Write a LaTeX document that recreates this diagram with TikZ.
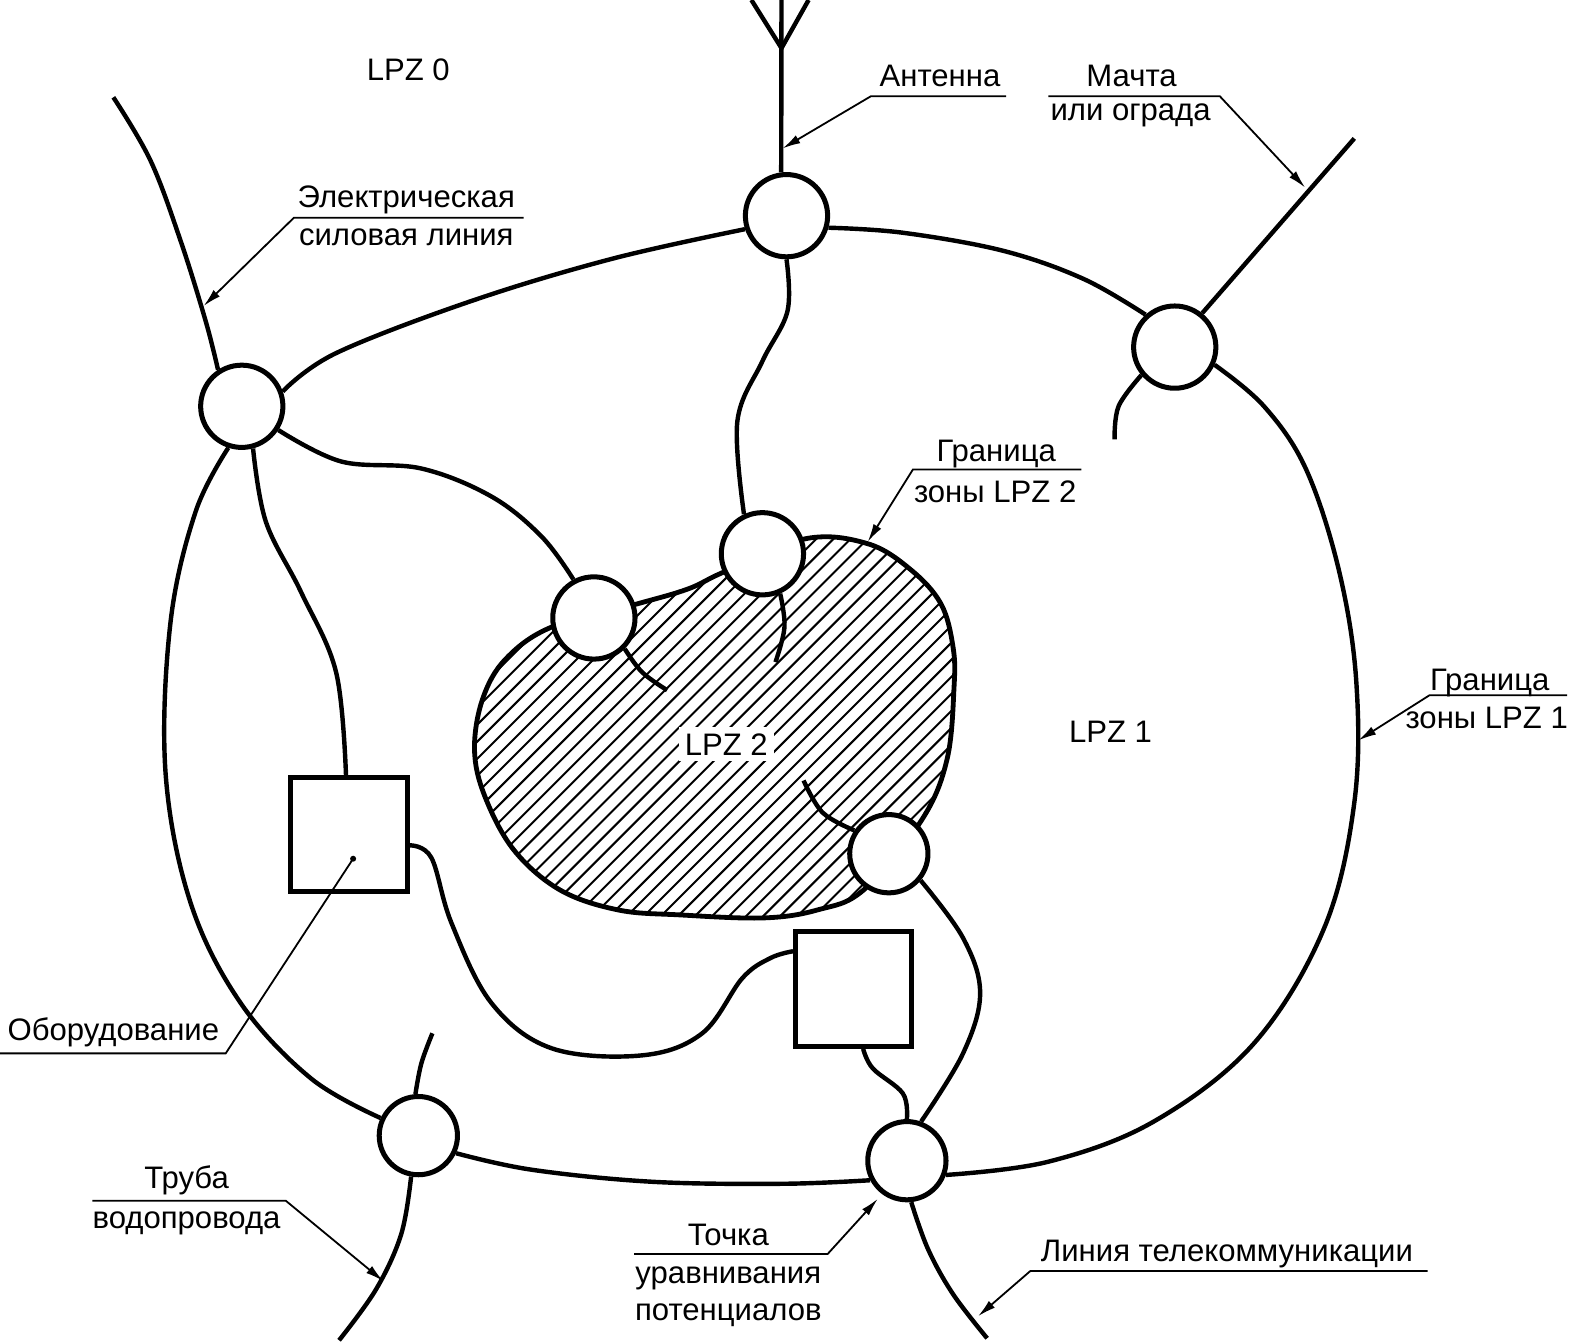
\documentclass[tikz,border=0pt]{standalone}
\usepackage{fontspec}
\setmainfont{Liberation Sans}
\usetikzlibrary{positioning,shapes,arrows.meta,calc}

\begin{document}
\begin{tikzpicture}[
    x=0.5pt,y=-0.5pt,
    bondpt/.style={circle,draw,line width=2.5pt,fill=white,minimum size=41pt,inner sep=0pt},
    unitbox/.style={rectangle,draw,line width=2.5pt,fill=white,minimum width=58pt,minimum height=57pt,inner sep=0pt},
    wire/.style={line width=2.2pt,smooth,tension=0.6},
    leader/.style={line width=0.9pt},
    tip/.style={leader,-{Latex[length=9pt,width=4.5pt]}},
    caption/.style={font=\fontsize{15.5}{18}\selectfont,inner sep=0pt,anchor=center,text height=11pt,text depth=0pt}
]
    \useasboundingbox (0,0) rectangle (1568,1338);

    % LPZ 2 zone
    \begin{scope}
        \clip plot[smooth cycle,tension=0.6] coordinates {(803,537) (865,542) (908,568) (938,602) (950,645) (951,685) (944,757) (919,817)
        (861,887) (815,907) (761,915) (678,912) (616,907) (558,887) (512,847) (483,793) (473,747) (481,697) (504,657) (550,625)
        (635,602) (686,587) (722,570)};
        \foreach \s in {-204,-187,...,510}
            \draw[line width=1pt] (800+\s,500) -- (300+\s,1000);
    \end{scope}
    \draw[line width=2.4pt]
        plot[smooth cycle,tension=0.6] coordinates {(803,537) (865,542) (908,568) (938,602) (950,645) (951,685) (944,757) (919,817)
        (861,887) (815,907) (761,915) (678,912) (616,907) (558,887) (512,847) (483,793) (473,747) (481,697) (504,657) (550,625)
        (635,602) (686,587) (722,570)};

    % bonding points
    \node[bondpt] (ptop) at (784,215) {};
    \node[bondpt] (pleft) at (241,405) {};
    \node[bondpt] (pright) at (1171,346) {};
    \node[bondpt] (pmid) at (760,552) {};
    \node[bondpt] (pinner) at (592,616) {};
    \node[bondpt,minimum size=39pt] (plow) at (886,851) {};
    \node[bondpt,minimum size=39pt] (pwater) at (417,1132) {};
    \node[bondpt,minimum size=39pt] (pbottom) at (904,1157) {};
    \node[unitbox] (eq1) at (348,832) {};
    \node[unitbox] (eq2) at (851,986) {};

    % free ends
    \coordinate (antfoot) at (779,0);
    \coordinate (antfork) at (779,48);
    \coordinate (antl) at (749,0);
    \coordinate (antr) at (806,0);
    \coordinate (mast) at (1350,138);
    \coordinate (stubm) at (1111,438);
    \coordinate (stubi) at (665,688);
    \coordinate (stubc) at (773,660);
    \coordinate (stubl) at (801,778);
    \coordinate (power) at (113,97);
    \coordinate (pipet) at (431,1030);
    \coordinate (pipeb) at (338,1336);
    \coordinate (tele) at (984,1334);

    % LPZ 1 ring
    \draw[wire] plot coordinates {(pleft.20) (335,352) (470,300) (610,258) (ptop.198)};
    \draw[wire] plot coordinates {(ptop.344) (900,232) (1000,250) (1080,278) (pright.132)};
    \draw[wire] plot coordinates {(pright.-24) (1260,405) (1302,468) (1335,570) (1352,680) (1350,800) (1320,925) (1250,1040) (1150,1118) (1045,1158) (pbottom.-20)};
    \draw[wire] plot coordinates {(pbottom.208) (780,1180) (650,1178) (530,1166) (pwater.-25)};
    \draw[wire] plot coordinates {(pwater.155) (310,1075) (240,1000) (190,900) (165,770) (170,620) (195,510) (pleft.252)};

    % inner wiring
    \draw[wire] plot coordinates {(pleft.-33) (340,460) (420,467) (490,495) (540,535) (pinner.118)};
    \draw[wire] plot coordinates {(pleft.285) (265,520) (300,590) (335,670) (eq1.93)};
    \draw[wire] plot coordinates {(ptop.-90) (785,310) (760,360) (735,420) (pmid.115)};
    \draw[wire] plot coordinates {(eq1.-10) (430,855) (450,920) (490,1000) (550,1045) (640,1052) (700,1030) (740,975) (768,955) (eq2.148)};
    \draw[wire] plot coordinates {(plow.-40) (960,935) (977,990) (960,1050) (pbottom.70)};
    \draw[wire] plot coordinates {(eq2.-81) (870,1065) (900,1090) (pbottom.90)};

    % stubs
    \draw[wire] plot coordinates {(pright.220) (1115,405) (stubm)};
    \draw[wire] plot coordinates {(pinner.-45) (640,670) (stubi)};
    \draw[wire] plot coordinates {(pmid.-66) (782,625) (stubc)};
    \draw[wire] plot coordinates {(plow.146) (820,810) (stubl)};

    % entering services
    \draw[line width=2.2pt] (ptop.97) -- (antfoot);
    \draw[line width=2.2pt] (antl) -- (antfork) -- (antr);
    \draw[line width=2.2pt] (pright.51) -- (mast);
    \draw[wire] plot coordinates {(power) (150,160) (180,240) (205,320) (pleft.123)};
    \draw[wire] plot coordinates {(pwater.94) (420,1060) (pipet)};
    \draw[wire] plot coordinates {(pwater.260) (400,1230) (375,1285) (pipeb)};
    \draw[wire] plot coordinates {(pbottom.-84) (925,1245) (950,1290) (tele)};

    % zone names
    \node[caption] (lpz0) at (407,69) {LPZ 0};
    \node[caption] (lpz1) at (1107,729) {LPZ 1};
    \node[caption,fill=white,inner sep=3pt] (lpz2) at (724,742) {LPZ 2};

    % callouts
    \node[caption] (tant) at (937,75) {Антенна};
    \coordinate (antA) at (1003,96);
    \coordinate (antB) at (868,96);
    \coordinate (antC) at (780,148);
    \draw[tip] (antA) -- (antB) -- (antC);

    \node[caption] (tmast) at (1128,75) {Мачта};
    \node[caption] (tfence) at (1127,109) {или ограда};
    \coordinate (mastA) at (1045,96);
    \coordinate (mastB) at (1216,96);
    \coordinate (mastC) at (1301,187);
    \draw[tip] (mastA) -- (mastB) -- (mastC);

    \node[caption] (tpow) at (405,196) {Электрическая};
    \node[caption] (tpowb) at (405,234) {силовая линия};
    \coordinate (powA) at (522,217);
    \coordinate (powB) at (293,217);
    \coordinate (powC) at (203,305);
    \draw[tip] (powA) -- (powB) -- (powC);

    \node[caption] (tzone2) at (993,449) {Граница};
    \node[caption] (tzone2b) at (992,490) {зоны LPZ 2};
    \coordinate (znA) at (1078,468);
    \coordinate (znB) at (910,468);
    \coordinate (znC) at (865,540);
    \draw[tip] (znA) -- (znB) -- (znC);

    \node[caption] (tzone1) at (1485,677) {Граница};
    \node[caption] (tzone1b) at (1482,715) {зоны LPZ 1};
    \coordinate (zoA) at (1562,693);
    \coordinate (zoB) at (1425,693);
    \coordinate (zoC) at (1354,738);
    \draw[tip] (zoA) -- (zoB) -- (zoC);

    \node[caption] (tequip) at (113,1026) {Оборудование};
    \coordinate (eqA) at (0,1050);
    \coordinate (eqB) at (225,1050);
    \coordinate (eqC) at (352,856);
    \draw[leader] (eqA) -- (eqB) -- (eqC);
    \fill (eqC) circle (3);

    \node[caption] (tpipe) at (186,1174) {Труба};
    \node[caption] (tpipeb) at (186,1214) {водопровода};
    \coordinate (piA) at (92,1197);
    \coordinate (piB) at (285,1197);
    \coordinate (piC) at (382,1277);
    \draw[tip] (piA) -- (piB) -- (piC);

    \node[caption] (tbond) at (726,1231) {Точка};
    \node[caption] (tbondb) at (726,1268) {уравнивания};
    \node[caption] (tbondc) at (726,1305) {потенциалов};
    \coordinate (boA) at (632,1250);
    \coordinate (boB) at (825,1250);
    \coordinate (boC) at (875,1195);
    \draw[tip] (boA) -- (boB) -- (boC);

    \node[caption] (ttele) at (1223,1246) {Линия телекоммуникации};
    \coordinate (teA) at (1423,1267);
    \coordinate (teB) at (1027,1267);
    \coordinate (teC) at (975,1312);
    \draw[tip] (teA) -- (teB) -- (teC);
\end{tikzpicture}
\end{document}
